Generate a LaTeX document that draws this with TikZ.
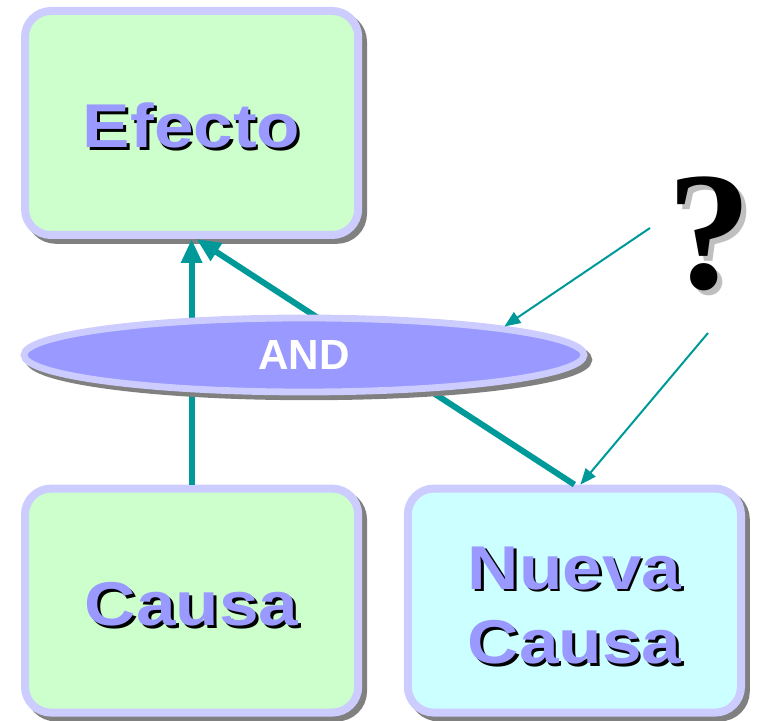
\documentclass[tikz,border=0pt]{standalone}
\usepackage{fontspec}
\setmainfont{Liberation Sans}
\newfontfamily\labelfont[FakeStretch=1.15]{Liberation Sans}
\newfontfamily\askfont{Liberation Serif}
\usepackage{xcolor}
\definecolor{mint}{HTML}{CCFFCC}
\definecolor{ice}{HTML}{CCFFFF}
\definecolor{lavender}{HTML}{CCCCFF}
\definecolor{periwinkle}{HTML}{9999FF}
\definecolor{arrowteal}{HTML}{009999}
\definecolor{shadowgray}{HTML}{808080}
\definecolor{askgray}{HTML}{BFBFBF}
\usepackage{tikz}
\usetikzlibrary{arrows.meta,positioning,shapes.geometric,shadows}
\newcommand{\shadowed}[3]{\rlap{\kern#2\raisebox{-#2}{\color{#1}#3}}#3}

\begin{document}
\begin{tikzpicture}[
    box/.style={draw=lavender, line width=0.2cm, rounded corners=0.65cm,
        minimum width=8.33cm, minimum height=5.6cm, inner sep=0pt,
        drop shadow={shadow xshift=0.12cm, shadow yshift=-0.12cm, fill=shadowgray, draw=shadowgray, opacity=1}},
    boxtext/.style={text=periwinkle, align=center, text height=38pt,
        font=\labelfont\bfseries\fontsize{44}{53}\selectfont},
    gate/.style={ellipse, draw=lavender, fill=periwinkle, line width=0.17cm,
        minimum width=14cm, minimum height=1.85cm, inner sep=0pt, text=white,
        font=\bfseries\fontsize{30}{36}\selectfont,
        drop shadow={shadow xshift=0.12cm, shadow yshift=-0.12cm, fill=shadowgray, draw=shadowgray, opacity=1}},
    link/.style={arrowteal, line width=0.15cm, -{Triangle[length=0.6cm, width=0.5cm]}},
    hint/.style={arrowteal, line width=0.05cm, -{Triangle[length=0.4cm, width=0.32cm]}}
]
    \useasboundingbox (0,0) rectangle (18.975,18.025);

    % Boxes
    \node[box, fill=mint, boxtext] (efecto) at (4.79,14.95) {\shadowed{black}{2pt}{Efecto}};
    \node[box, fill=mint, boxtext] (causa) at (4.79,3.01) {\shadowed{black}{2pt}{Causa}};
    \node[box, fill=ice, boxtext, text height=92pt] (nueva) at (14.36,3.01) {\shadowed{black}{2pt}{Nueva}\\\shadowed{black}{2pt}{Causa}};

    % Causes towards the effect
    \draw[link] (causa.north) -- (efecto.south);
    \draw[link] (nueva.north) -- ([xshift=0.12cm]efecto.south);

    % AND gate
    \node[gate] (andgate) at (7.6,9.15) {AND};

    % Question
    \node[font=\askfont\bfseries\fontsize{120}{120}\selectfont, inner sep=0pt] (ask) at (17.75,12.125) {\shadowed{askgray}{3.5pt}{?}};
    \coordinate (ask1) at (16.25,12.325);
    \coordinate (ask2) at (17.7,9.7);
    \draw[hint] (ask1) -- (andgate.north east);
    \draw[hint] (ask2) -- ([xshift=0.15cm]nueva.north);
\end{tikzpicture}
\end{document}
